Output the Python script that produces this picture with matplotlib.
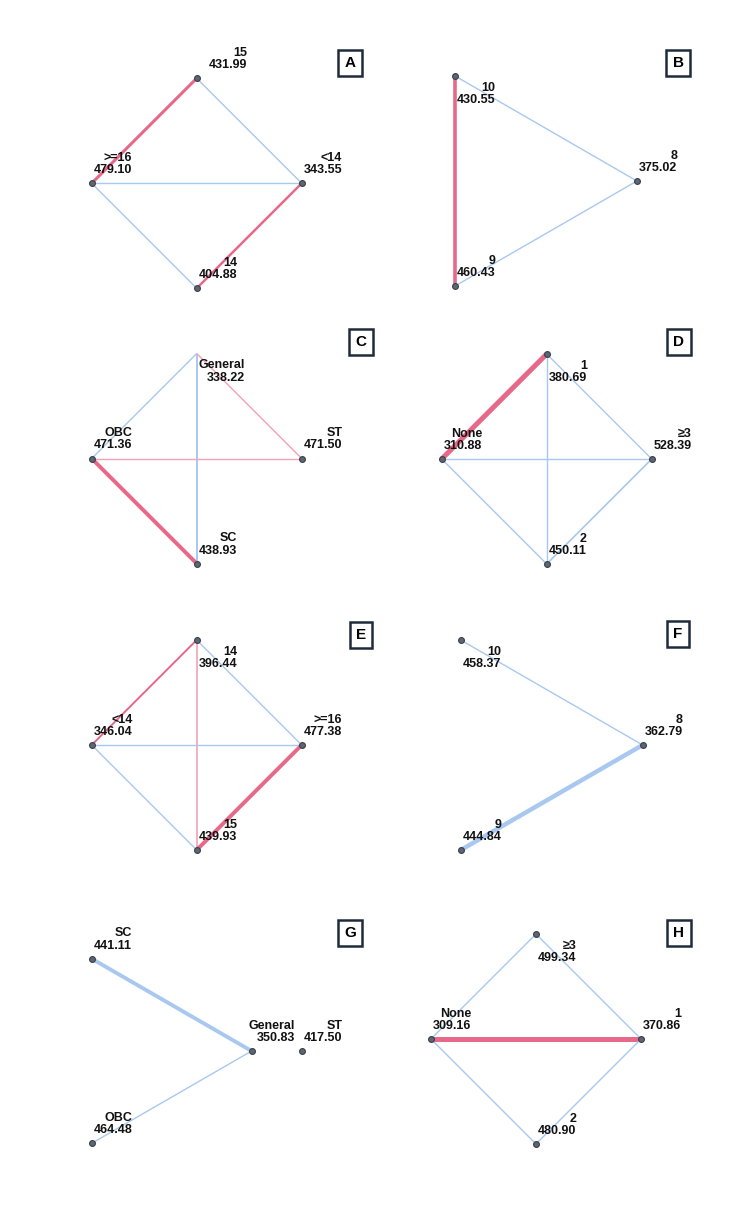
import math
import matplotlib
matplotlib.use("Agg")
import matplotlib.pyplot as plt

W_PX, H_PX, DPI = 750, 1224, 100
plt.rcParams["font.family"] = ["Liberation Sans", "DejaVu Sans"]

PINK = "#e8688a"
PINK_LIGHT = "#f2a3b5"
BLUE = "#a9c8f0"

# ---- data: node names, mean ranks, edges (a, b, colour, width) ----
A_nodes = [">=16", "15", "<14", "14"]
A_ranks = [479.10, 431.99, 343.55, 404.88]
A_edges = [("15", ">=16", PINK, 2.2), ("15", "<14", BLUE, 1.0), (">=16", "<14", BLUE, 1.0),
           (">=16", "14", BLUE, 1.0), ("<14", "14", PINK, 1.8)]

B_nodes = ["10", "8", "9"]
B_ranks = [430.55, 375.02, 460.43]
B_edges = [("10", "9", PINK, 2.6), ("10", "8", BLUE, 1.0), ("8", "9", BLUE, 1.0)]

C_nodes = ["OBC", "General", "ST", "SC"]
C_ranks = [471.36, 338.22, 471.50, 438.93]
C_edges = [("General", "OBC", BLUE, 1.0), ("General", "SC", BLUE, 1.4), ("General", "ST", PINK_LIGHT, 1.0),
           ("OBC", "ST", PINK_LIGHT, 1.0), ("OBC", "SC", PINK, 2.8)]

D_nodes = ["None", "1", "≥3", "2"]
D_ranks = [310.88, 380.69, 528.39, 450.11]
D_edges = [("None", "1", PINK, 3.6), ("1", "≥3", BLUE, 1.0), ("1", "2", BLUE, 1.0),
           ("None", "≥3", BLUE, 1.0), ("None", "2", BLUE, 1.0), ("≥3", "2", BLUE, 1.2)]

E_nodes = ["<14", "14", ">=16", "15"]
E_ranks = [346.04, 396.44, 477.38, 439.93]
E_edges = [("14", "<14", PINK, 1.4), ("14", "15", PINK_LIGHT, 1.2), ("14", ">=16", BLUE, 1.0),
           ("<14", ">=16", BLUE, 1.0), ("<14", "15", BLUE, 1.0), (">=16", "15", PINK, 2.8)]

F_nodes = ["10", "8", "9"]
F_ranks = [458.37, 362.79, 444.84]
F_edges = [("10", "8", BLUE, 1.0), ("8", "9", BLUE, 3.2)]

G_nodes = ["SC", "General", "OBC", "ST"]
G_ranks = [441.11, 350.83, 464.48, 417.50]
G_edges = [("SC", "General", BLUE, 2.8), ("General", "OBC", BLUE, 1.0)]

H_nodes = ["None", "≥3", "1", "2"]
H_ranks = [309.16, 499.34, 370.86, 480.90]
H_edges = [("≥3", "None", BLUE, 1.0), ("≥3", "1", BLUE, 1.0), ("None", "1", PINK, 3.6),
           ("None", "2", BLUE, 1.0), ("1", "2", BLUE, 1.0)]

# ---- layout: node angle on the circle (None = isolated node), label above/below ----
A_lay = {">=16": 180, "15": 90, "<14": 0, "14": 270}
B_lay = {"10": 120, "8": 0, "9": 240}
C_lay = {"OBC": 180, "General": 90, "ST": 0, "SC": 270}
D_lay = {"None": 180, "1": 90, "≥3": 0, "2": 270}
E_lay = {"<14": 180, "14": 90, ">=16": 0, "15": 270}
F_lay = {"10": 120, "8": 0, "9": 240}
G_lay = {"SC": 120, "General": 0, "OBC": 240, "ST": None}
H_lay = {"None": 180, "≥3": 90, "1": 0, "2": 270}
BELOW = {"B": ["10"], "C": ["General"], "D": ["1"], "E": ["14"], "F": ["10"], "H": ["≥3"]}
NO_MARKER = {"C": ["General"]}
LABEL_DX = {"A": {"15": 10}, "G": {"General": -5}}

panels = [
    ("A", A_nodes, A_ranks, A_edges, A_lay),
    ("B", B_nodes, B_ranks, B_edges, B_lay),
    ("C", C_nodes, C_ranks, C_edges, C_lay),
    ("D", D_nodes, D_ranks, D_edges, D_lay),
    ("E", E_nodes, E_ranks, E_edges, E_lay),
    ("F", F_nodes, F_ranks, F_edges, F_lay),
    ("G", G_nodes, G_ranks, G_edges, G_lay),
    ("H", H_nodes, H_ranks, H_edges, H_lay),
]

# panel placement in pixels (centre of drawing) and letter-box centres
CX = [196.7, 546, 196.7, 546.7, 196.7, 551.7, 196.7, 536]
CY = [183.3, 181, 458.5, 459, 745, 745, 1051, 1039]
BOX_X = [350, 678, 361, 679, 361, 678, 350, 679]
BOX_Y = [63, 63, 342, 342, 635, 634, 933, 933]
FIT = 210.0          # drawing fits a FIT x FIT pixel square
HW, HH = 170, 140    # axes half size in px
ISO_X = 1.47         # x of an isolated node (in radii)


def positions(lay):
    pos = {}
    for k, a in lay.items():
        if a is None:
            pos[k] = (ISO_X, 0.0)
        else:
            pos[k] = (math.cos(math.radians(a)), math.sin(math.radians(a)))
    return pos


fig = plt.figure(figsize=(W_PX / DPI, H_PX / DPI), dpi=DPI)

for i, (letter, nodes, ranks, edges, lay) in enumerate(panels):
    pos = positions(lay)
    xs = [p[0] for p in pos.values()]
    ys = [p[1] for p in pos.values()]
    bw, bh = max(xs) - min(xs), max(ys) - min(ys)
    s = FIT / max(bw, bh)                       # px per unit
    bx, by = (max(xs) + min(xs)) / 2, (max(ys) + min(ys)) / 2
    rect = [(CX[i] - HW) / W_PX, 1 - (CY[i] + HH) / H_PX, 2 * HW / W_PX, 2 * HH / H_PX]
    ax = fig.add_axes(rect)
    ax.set_xlim(bx - HW / s, bx + HW / s)
    ax.set_ylim(by - HH / s, by + HH / s)
    ax.axis("off")

    for a, b, col, lw in edges:
        ax.plot([pos[a][0], pos[b][0]], [pos[a][1], pos[b][1]], color=col, lw=lw,
                solid_capstyle="butt", zorder=1)
    for name, rank in zip(nodes, ranks):
        x, y = pos[name]
        if name not in NO_MARKER.get(letter, []):
            ax.plot(x, y, "o", ms=4.2, mfc="#5d6673", mec="#3a3f48", mew=0.8, zorder=3)
        below = name in BELOW.get(letter, [])
        dx = 2 + LABEL_DX.get(letter, {}).get(name, 0)
        ax.annotate("%s\n%.2f" % (name, rank), (x, y),
                    xytext=(dx, -6 if below else 7), textcoords="offset pixels",
                    ha="left", va="top" if below else "bottom", multialignment="right",
                    fontsize=9, fontweight="bold", linespacing=1.05, color="#111111", zorder=4)

    fig.text(BOX_X[i] / W_PX, 1 - BOX_Y[i] / H_PX, letter, ha="center", va="center",
             fontsize=11, fontweight="bold",
             bbox=dict(boxstyle="square,pad=0.4", fc="white", ec="#1e2b3a", lw=1.8))

fig.savefig("out.png", dpi=DPI)
